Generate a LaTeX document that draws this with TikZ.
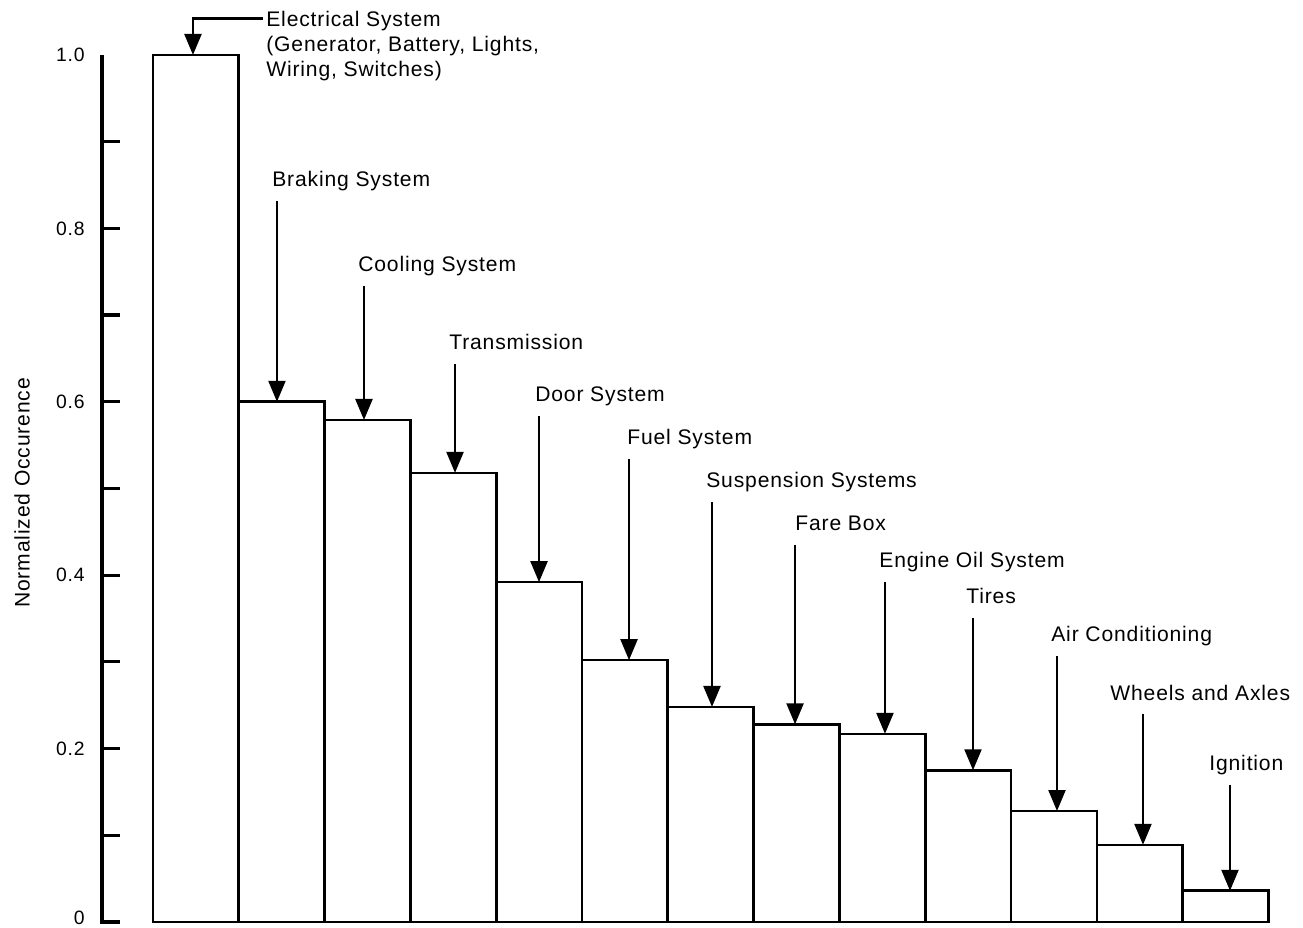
\documentclass[tikz,border=0pt]{standalone}
\usepackage{fontspec}
\setmainfont{Liberation Sans}[LetterSpace=4]
\usetikzlibrary{arrows.meta}

\begin{document}
\begin{tikzpicture}[x=1.716cm, y=17.34cm]

      \tikzset{barbox/.style={draw, line width=1.5pt},
               partname/.style={anchor=base west, inner xsep=0pt, inner ysep=0.28cm, text depth=0pt, font=\fontsize{12}{14.2}\selectfont},
               pointer/.style={-{Triangle[length=0.42cm, width=0.34cm]}, line width=1.3pt},
               axisline/.style={line width=1.8pt},
               ticklabel/.style={anchor=east, inner sep=0pt, font=\fontsize{11}{13}\selectfont}}
      \useasboundingbox (-1.783,-0.0058) rectangle (13.403,1.0634);
%% Axis
      \draw[axisline] (-0.594,1.0) -- (-0.594,-0.002);
      \foreach \t in {0,0.1,...,1.0}
          \draw[axisline] (-0.594,\t) -- (-0.385,\t);
      \node[ticklabel] (t10) at (-0.793,1.0) {1.0};
      \node[ticklabel] (t8) at (-0.793,0.8) {0.8};
      \node[ticklabel] (t6) at (-0.793,0.6) {0.6};
      \node[ticklabel] (t4) at (-0.793,0.4) {0.4};
      \node[ticklabel] (t2) at (-0.793,0.2) {0.2};
      \node[ticklabel] (t0) at (-0.793,0.005) {0};
      \node[rotate=90, font=\fontsize{12}{14}\selectfont] (ytitle) at (-1.527,0.495) {Normalized Occurence};
%% Bars
      \draw[barbox] (0,0) rectangle (1,1.0);
      \draw[barbox] (1,0) rectangle (2,0.600);
      \draw[barbox] (2,0) rectangle (3,0.579);
      \draw[barbox] (3,0) rectangle (4,0.518);
      \draw[barbox] (4,0) rectangle (5,0.392);
      \draw[barbox] (5,0) rectangle (6,0.302);
      \draw[barbox] (6,0) rectangle (7,0.248);
      \draw[barbox] (7,0) rectangle (8,0.228);
      \draw[barbox] (8,0) rectangle (9,0.217);
      \draw[barbox] (9,0) rectangle (10,0.175);
      \draw[barbox] (10,0) rectangle (11,0.128);
      \draw[barbox] (11,0) rectangle (12,0.089);
      \draw[barbox] (12,0) rectangle (13,0.036);
%% Bar tops
      \coordinate (b1) at (0.466,1.0);
      \coordinate (b2) at (1.445,0.600);
      \coordinate (b3) at (2.459,0.579);
      \coordinate (b4) at (3.520,0.518);
      \coordinate (b5) at (4.499,0.392);
      \coordinate (b6) at (5.548,0.302);
      \coordinate (b7) at (6.515,0.248);
      \coordinate (b8) at (7.483,0.228);
      \coordinate (b9) at (8.531,0.217);
      \coordinate (b10) at (9.557,0.175);
      \coordinate (b11) at (10.536,0.128);
      \coordinate (b12) at (11.538,0.089);
      \coordinate (b13) at (12.552,0.036);
%% Labels
      \node[partname, anchor=north west, inner ysep=0pt, align=left] (l1) at (1.317,1.0507) {Electrical System\\(Generator, Battery, Lights,\\Wiring, Switches)};
      \node[partname] (l2) at (1.387,0.848) {Braking System};
      \node[partname] (l3) at (2.389,0.750) {Cooling System};
      \node[partname] (l4) at (3.450,0.660) {Transmission};
      \node[partname] (l5) at (4.452,0.600) {Door System};
      \node[partname] (l6) at (5.524,0.551) {Fuel System};
      \node[partname] (l7) at (6.445,0.501) {Suspension Systems};
      \node[partname] (l8) at (7.483,0.451) {Fare Box};
      \node[partname] (l9) at (8.462,0.409) {Engine Oil System};
      \node[partname] (l10) at (9.476,0.367) {Tires};
      \node[partname] (l11) at (10.466,0.323) {Air Conditioning};
      \node[partname] (l12) at (11.154,0.256) {Wheels and Axles};
      \node[partname] (l13) at (12.308,0.175) {Ignition};
%% Arrows
      \coordinate (e1) at ([xshift=-0.06cm, yshift=-0.15cm]l1.north west);
      \draw[pointer] (e1) -| (b1);
      \draw[pointer] (l2.south -| b2) -- (b2);
      \draw[pointer] (l3.south -| b3) -- (b3);
      \draw[pointer] (l4.south -| b4) -- (b4);
      \draw[pointer] (l5.south -| b5) -- (b5);
      \draw[pointer] (l6.south -| b6) -- (b6);
      \draw[pointer] (l7.south -| b7) -- (b7);
      \draw[pointer] (l8.south -| b8) -- (b8);
      \draw[pointer] (l9.south -| b9) -- (b9);
      \draw[pointer] (l10.south -| b10) -- (b10);
      \draw[pointer] (l11.south -| b11) -- (b11);
      \draw[pointer] (l12.south -| b12) -- (b12);
      \draw[pointer] (l13.south -| b13) -- (b13);

\end{tikzpicture}
\end{document}
